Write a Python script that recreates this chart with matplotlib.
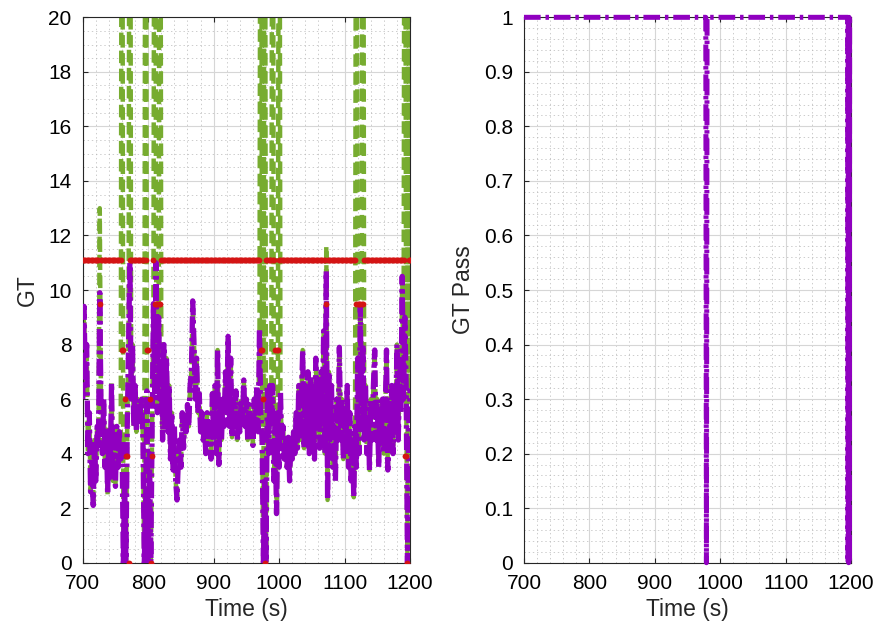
import matplotlib

matplotlib.use("Agg")
import matplotlib.pyplot as plt
import numpy as np
from matplotlib.ticker import MultipleLocator, FuncFormatter

plt.rcParams["font.family"] = ["Liberation Sans", "DejaVu Sans"]
plt.rcParams["lines.scale_dashes"] = False

PURPLE = "#9000c0"
GREEN = "#77ac30"
RED = "#d41414"

# GT samples every 2 s from 700 s to 1200 s
GT_TIME = np.arange(700, 1201, 2)
GT = [
    6.0, 9.4, 6.5, 8.0, 4.0, 5.5, 2.6, 3.8, 2.1, 4.5,
    3.0, 5.0, 4.2, 9.9, 5.5, 4.0, 6.0, 3.5, 5.0, 2.5,
    4.8, 3.2, 6.6, 3.0, 4.5, 2.8, 5.0, 3.5, 4.8, 3.8,
    4.5, 0.0, 3.0, 0.0, 5.0, 8.0, 11.0, 6.0, 8.0, 5.0,
    6.5, 4.8, 6.0, 5.0, 5.5, 6.0, 4.5, 0.0, 2.0, 6.3,
    0.0, 4.0, 0.0, 5.0, 9.5, 6.0, 11.0, 5.5, 9.0, 6.0,
    7.5, 4.5, 8.0, 5.0, 7.5, 4.8, 6.5, 3.8, 5.5, 3.4,
    5.0, 3.0, 2.3, 3.8, 4.5, 3.5, 5.5, 4.2, 5.5, 4.8,
    5.8, 5.0, 6.5, 7.0, 9.6, 8.0, 6.0, 7.5, 5.5, 6.2,
    4.8, 5.5, 4.5, 5.0, 4.0, 5.5, 4.5, 5.0, 3.8, 6.2,
    4.5, 6.5, 4.0, 7.8, 3.6, 6.0, 4.5, 6.0, 5.0, 7.0,
    5.5, 8.3, 5.0, 7.5, 4.6, 6.0, 5.0, 6.3, 4.5, 5.5,
    4.8, 6.0, 5.2, 6.7, 5.0, 6.0, 4.5, 5.8, 4.6, 5.5,
    4.3, 6.0, 5.0, 6.5, 4.8, 8.6, 5.5, 4.5, 0.0, 3.0,
    0.0, 6.5, 4.0, 6.5, 5.0, 6.5, 3.0, 5.0, 1.8, 5.5,
    3.5, 6.3, 4.3, 5.0, 3.8, 4.5, 3.5, 4.6, 3.0, 4.5,
    3.8, 4.8, 4.0, 5.5, 4.2, 6.5, 4.5, 6.0, 7.8, 4.2,
    6.5, 5.0, 7.0, 4.0, 6.8, 4.5, 6.0, 3.8, 7.5, 5.0,
    6.5, 4.2, 7.0, 5.0, 8.5, 4.0, 10.7, 2.3, 7.0, 4.5,
    6.5, 3.5, 5.0, 3.0, 6.0, 4.5, 7.9, 4.5, 6.0, 3.8,
    5.5, 4.2, 6.5, 3.5, 5.5, 3.0, 4.5, 2.4, 5.0, 3.5,
    7.5, 4.0, 9.4, 5.0, 8.0, 4.5, 6.5, 4.0, 5.5, 3.4,
    6.0, 4.5, 6.5, 7.8, 4.5, 6.0, 3.5, 5.5, 4.5, 6.0,
    4.0, 5.5, 7.8, 3.4, 5.5, 4.5, 6.5, 4.0, 6.0, 5.0,
    8.0, 4.5, 7.0, 5.5, 10.5, 6.0, 9.0, 6.5, 0.0, 5.0,
    6.4,
]

# estimate follows GT except where it blows up
EST_SPIKE_TIME = [726, 760, 772, 796, 810, 818, 972, 978, 990, 1000, 1072, 1118, 1128, 1192, 1198]
EST_SPIKE_VALUE = [13.0, 40, 40, 40, 40, 40, 40, 40, 40, 40, 11.6, 40, 40, 40, 40]

# threshold sits at 11.1 apart from a few samples
THR_BASE = 11.1
THR_DIP_TIME = [726,
                760, 762, 764, 766, 768, 770,
                798, 800, 802, 804, 806, 810, 812, 814, 816, 818,
                972, 974, 976, 978,
                994, 996, 998,
                1072,
                1118, 1120, 1122, 1124, 1126, 1128,
                1192, 1194, 1196]
THR_DIP_VALUE = [9.5,
                 7.8, 7.8, 6.0, 3.9, 3.9, 0.0,
                 7.8, 7.8, 6.0, 0.0, 3.9, 9.5, 9.5, 9.5, 9.5, 9.5,
                 7.8, 7.8, 6.0, 0.0,
                 7.8, 7.8, 7.8,
                 9.5,
                 9.5, 9.5, 9.5, 9.5, 9.5, 9.5,
                 3.9, 3.9, 0.0]

PASS_TIME = [700, 978, 979, 980, 1195, 1195.5, 1196, 1196.5, 1197, 1197.5, 1198, 1200]
PASS = [1, 1, 0, 1, 1, 0, 1, 0, 1, 0, 1, 1]

DASHDOT = (12, 3.5, 2.5, 3.5)
DASHED = (9, 4)


def style_axes(ax, ymax, ystep, yminor, ylabel, labelpad):
    ax.set_xlim(700, 1200)
    ax.set_ylim(0, ymax)
    ax.xaxis.set_major_locator(MultipleLocator(100))
    ax.xaxis.set_minor_locator(MultipleLocator(20))
    ax.yaxis.set_major_locator(MultipleLocator(ystep))
    ax.yaxis.set_minor_locator(MultipleLocator(yminor))
    ax.yaxis.set_major_formatter(FuncFormatter(lambda v, p: f"{v:g}"))
    ax.set_axisbelow(True)
    ax.grid(which="major", color="#d6d6d6", linewidth=0.8)
    ax.grid(which="minor", color="#b8b8b8", linestyle=(0, (1, 2)), linewidth=0.5)
    ax.tick_params(which="major", direction="in", top=True, right=True, length=3.5,
                   width=0.8, color="#262626", labelsize=15, pad=8)
    ax.tick_params(which="minor", length=0)
    for spine in ax.spines.values():
        spine.set_color("#262626")
        spine.set_linewidth(0.8)
    ax.set_xlabel("Time (s)", fontsize=16.5, labelpad=4, color="#262626")
    ax.set_ylabel(ylabel, fontsize=16.5, labelpad=labelpad, color="#262626")


fig = plt.figure(figsize=(8.83, 6.39), dpi=100)
ax1 = fig.add_axes([0.0937, 0.1194, 0.3707, 0.8535])
ax2 = fig.add_axes([0.5934, 0.1194, 0.3703, 0.8535])

est = np.array(GT, dtype=float)
for t, v in zip(EST_SPIKE_TIME, EST_SPIKE_VALUE):
    est[GT_TIME == t] = v

thr = np.full(len(GT_TIME), THR_BASE)
for t, v in zip(THR_DIP_TIME, THR_DIP_VALUE):
    thr[GT_TIME == t] = v

ax1.plot(GT_TIME, est, color=GREEN, linewidth=3.2, dashes=DASHED, zorder=2)
ax1.plot(GT_TIME, GT, color=PURPLE, linewidth=3.8, dashes=DASHDOT, zorder=3)
ax1.plot(GT_TIME, thr, linestyle="none", marker="o", markersize=4.2,
         markerfacecolor=RED, markeredgecolor="none", color=RED, zorder=4)
style_axes(ax1, 20, 2, 0.5, "GT", 7)

ax2.plot(PASS_TIME, PASS, color=PURPLE, linewidth=3.6, dashes=DASHDOT, zorder=4, clip_on=False)
style_axes(ax2, 1, 0.1, 0.02, "GT Pass", 6)

fig.savefig("out.png", dpi=100, facecolor="white")
